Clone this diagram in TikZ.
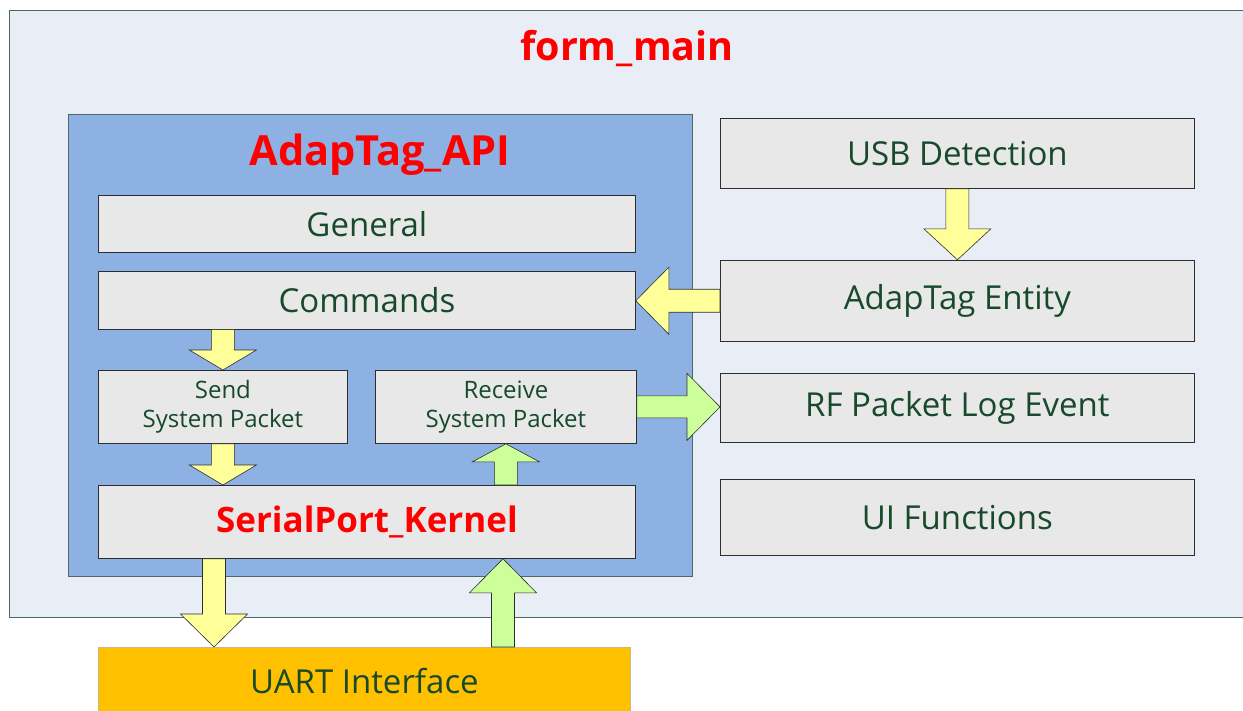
\documentclass[tikz,border=0pt]{standalone}
\usepackage{fontspec}
\setmainfont{Open Sans}
\usetikzlibrary{positioning,calc}
\definecolor{cForm}{RGB}{233,237,245}
\definecolor{cFormEdge}{RGB}{80,105,95}
\definecolor{cApi}{RGB}{141,177,227}
\definecolor{cBox}{RGB}{232,232,232}
\definecolor{cEdge}{RGB}{45,45,45}
\definecolor{cText}{RGB}{23,73,43}
\definecolor{cUart}{RGB}{255,192,0}
\definecolor{cUartEdge}{RGB}{205,185,125}
\definecolor{cYel}{RGB}{255,255,153}
\definecolor{cGrn}{RGB}{204,255,153}
\tikzset{
  panel/.style={
    rectangle, draw=cFormEdge, line width=0.8pt, inner sep=0pt,
    anchor=north west,
  },
  box/.style={
    rectangle, draw=cEdge, line width=0.8pt, fill=cBox,
    text=cText, align=center, inner sep=0pt, anchor=north west,
    font=\fontsize{33}{38}\selectfont,
  },
  smallbox/.style={box, font=\fontsize{24}{29}\selectfont},
  title/.style={text=red, font=\fontsize{39.5}{46}\selectfont\bfseries},
  yarr/.style={fill=cYel, draw=cEdge, line width=0.6pt},
  garr/.style={fill=cGrn, draw=cEdge, line width=0.6pt},
}
% block arrow: style, from, to, half shaft, half head, head length
\newcommand\blkarrow[6]{%
  \coordinate (hb) at ($(#3)!#6!(#2)$);
  \draw[#1] ($(#2)!#4!90:(#3)$) -- ($(hb)!#4!90:(#3)$)
    -- ($(hb)!#5!90:(#3)$) -- (#3) -- ($(hb)!#5!-90:(#3)$)
    -- ($(hb)!#4!-90:(#3)$) -- ($(#2)!#4!-90:(#3)$) -- cycle;
}

\begin{document}
\begin{tikzpicture}[x=1pt, y=-1pt]
\useasboundingbox (0,0) rectangle (1243,710);

\node[panel, fill=cForm, minimum width=1240pt, minimum height=607pt] (form) at (9,10) {};
\node[title] (formTitle) at (627,49) {form\_main};

\node[panel, fill=cApi, minimum width=624pt, minimum height=462pt] (api) at (68,114) {};
\node[title, font=\fontsize{41.5}{48}\selectfont\bfseries] (apiTitle) at (380,155) {AdapTag\_API};

\node[box, minimum width=537pt, minimum height=57pt] (gen) at (98,195) {General};
\node[box, minimum width=537pt, minimum height=58pt, below=18pt of gen] (cmd) {Commands};
\node[smallbox, minimum width=249pt, minimum height=73pt] (snd) at (98,370) {Send\\System Packet};
\node[smallbox, minimum width=261pt, minimum height=73pt] (rcv) at (375,370) {Receive\\System Packet};
\node[box, minimum width=537pt, minimum height=73pt, text=red,
  font=\fontsize{35}{40}\selectfont\bfseries] (ker) at (98,485) {SerialPort\_Kernel};

\node[box, fill=cUart, draw=cUartEdge, minimum width=532pt, minimum height=68pt] (uart) at (98,647) {UART Interface};

\node[box, minimum width=474pt, minimum height=70pt] (usb) at (720,118) {USB Detection};
\node[box, minimum width=474pt, minimum height=81pt, below=71pt of usb] (ent) {AdapTag Entity};
\node[box, minimum width=474pt, minimum height=69pt, below=31pt of ent] (rf) {RF Packet Log Event};
\node[box, minimum width=474pt, minimum height=76pt, below=37pt of rf] (ui) {UI Functions};

\blkarrow{yarr}{cmd.south -| snd.north}{snd.north}{11.5pt}{33.5pt}{20pt}
\blkarrow{yarr}{snd.south}{ker.north -| snd.south}{11.5pt}{33.5pt}{20pt}
\blkarrow{garr}{ker.north -| rcv.south}{rcv.south}{11.5pt}{33.5pt}{18pt}
\blkarrow{garr}{rcv.east}{rcv.east -| rf.west}{11pt}{33.5pt}{33pt}
\blkarrow{yarr}{ent.west}{ent.west -| cmd.east}{11.5pt}{33.5pt}{33pt}
\blkarrow{yarr}{usb.south}{ent.north}{11.5pt}{33.5pt}{31pt}
\blkarrow{yarr}{ker.south -| 214,0}{uart.north -| 214,0}{11.5pt}{33.5pt}{33pt}
\blkarrow{garr}{uart.north -| 503,0}{ker.south -| 503,0}{11.5pt}{33.5pt}{34pt}

\end{tikzpicture}
\end{document}
